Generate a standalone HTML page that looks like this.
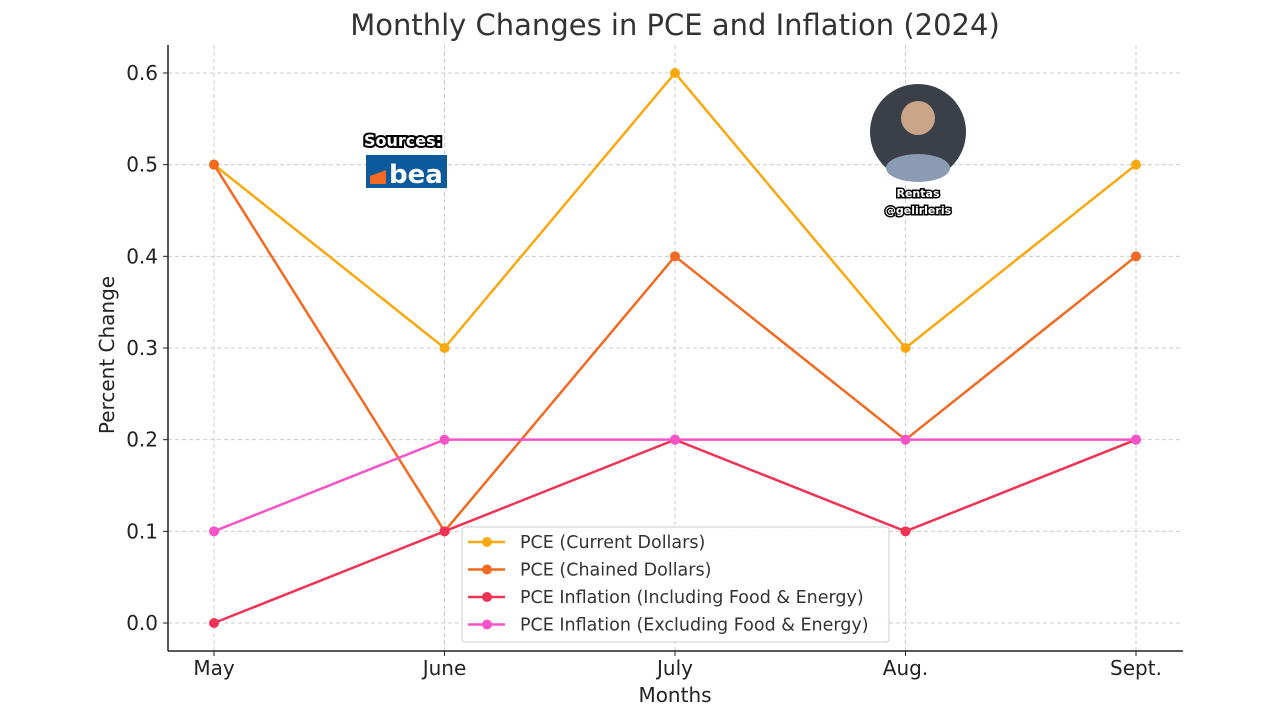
<!DOCTYPE html>
<html><head><meta charset="utf-8"><style>
body{margin:0;background:#fff;}
svg{display:block;font-family:"DejaVu Sans","Liberation Sans",sans-serif;}
</style></head><body>
<svg id="chart" width="1280" height="720">
<text x="675" y="35" text-anchor="middle" font-size="29" fill="#333">Monthly Changes in PCE and Inflation (2024)</text>
<g id="grid"></g>
<g id="axes"></g>
<g id="series"></g>
<g>
<text x="403" y="146" text-anchor="middle" font-size="16" font-weight="bold" fill="#fff" stroke="#000" stroke-width="4" paint-order="stroke">Sources:</text>
<rect x="366" y="155" width="81" height="33" fill="#0a5a9c"/>
<polygon points="370,184 386,184 386,170 370,176" fill="#f26a21"/>
<text x="389" y="183" font-size="26" font-weight="bold" fill="#fff">bea</text>
</g>
<g>
<circle cx="918" cy="132" r="48" fill="#3b4048"/>
<circle cx="918" cy="118" r="17" fill="#c9a58a"/>
<ellipse cx="918" cy="168" rx="32" ry="14" fill="#8a9bb3"/>
<text x="918" y="197" text-anchor="middle" font-size="11" font-weight="bold" fill="#fff" stroke="#000" stroke-width="3" paint-order="stroke">Rentas</text>
<text x="918" y="214" text-anchor="middle" font-size="11" font-weight="bold" fill="#fff" stroke="#000" stroke-width="3" paint-order="stroke">@gelirleris</text>
</g>
<g id="legend"></g>
</svg>
<script>
const months = ["May","June","July","Aug.","Sept."];
const pceCurrent = [0.5,0.3,0.6,0.3,0.5];
const pceChained = [0.5,0.1,0.4,0.2,0.4];
const inflIncl = [0.0,0.1,0.2,0.1,0.2];
const inflExcl = [0.1,0.2,0.2,0.2,0.2];
const yTicks = ["0.0","0.1","0.2","0.3","0.4","0.5","0.6"];
const seriesNames = ["PCE (Current Dollars)","PCE (Chained Dollars)","PCE Inflation (Including Food & Energy)","PCE Inflation (Excluding Food & Energy)"];
const NS="http://www.w3.org/2000/svg";
const xS=i=>214+i*230.5;
const yS=v=>623-v*(550/0.6);
function mk(p,tag,attrs){const e=document.createElementNS(NS,tag);for(const k in attrs)e.setAttribute(k,attrs[k]);p.appendChild(e);return e;}
const grid=document.getElementById('grid'),axes=document.getElementById('axes'),ser=document.getElementById('series'),leg=document.getElementById('legend');
yTicks.forEach(t=>{const y=yS(parseFloat(t));
 const l=mk(grid,'line',{x1:168,x2:1183,y1:y,y2:y,stroke:'#ccc','stroke-dasharray':'4,3'});
 
 
 const tx=mk(axes,'text',{x:158,y:y+7,'text-anchor':'end','font-size':20,fill:'#222'});tx.textContent=t;
 
 
 mk(axes,'line',{x1:163,x2:168,y1:y,y2:y,stroke:'#222'});
});
months.forEach((m,i)=>{const x=xS(i);
 const l=mk(grid,'line',{x1:x,x2:x,y1:45,y2:651,stroke:'#ccc','stroke-dasharray':'4,3'});
 
 
 const tx=mk(axes,'text',{x:x,y:675,'text-anchor':'middle','font-size':20,fill:'#222'});tx.textContent=m;
 
 
 mk(axes,'line',{x1:x,x2:x,y1:651,y2:656,stroke:'#222'});
});
mk(axes,'line',{x1:168,x2:168,y1:45,y2:651,stroke:'#222','stroke-width':1.5});
mk(axes,'line',{x1:168,x2:1183,y1:651,y2:651,stroke:'#222','stroke-width':1.5});
let xl=mk(axes,'text',{x:675,y:702,'text-anchor':'middle','font-size':20,fill:'#222'});xl.textContent='Months';


let yl=mk(axes,'text',{x:114,y:355,'text-anchor':'middle','font-size':20,fill:'#222',transform:'rotate(-90 114 355)'});yl.textContent='Percent Change';


const data=[pceCurrent,pceChained,inflIncl,inflExcl];
const colors=["#f9a90f","#f26a21","#ef3354","#f554c8"];
data.forEach((d,s)=>{const g=mk(ser,'g',{});
 
 
 mk(g,'polyline',{points:d.map((v,i)=>xS(i)+','+yS(v)).join(' '),fill:'none',stroke:colors[s],'stroke-width':2.5});
 d.forEach((v,i)=>{const c=mk(g,'circle',{cx:xS(i),cy:yS(v),r:5,fill:colors[s]});
  
  });
});
const lb=mk(leg,'rect',{x:462,y:527,width:427,height:115,rx:3,fill:'#fff','fill-opacity':0.85,stroke:'#ccc'});


seriesNames.forEach((n,s)=>{const y=542+s*27.5;
 mk(leg,'line',{x1:468,x2:505,y1:y,y2:y,stroke:colors[s],'stroke-width':2.5});
 mk(leg,'circle',{cx:487,cy:y,r:5,fill:colors[s]});
 const t=mk(leg,'text',{x:520,y:y+6,'font-size':17.5,fill:'#333'});t.textContent=n;
 
 
});
</script>
</body></html>
